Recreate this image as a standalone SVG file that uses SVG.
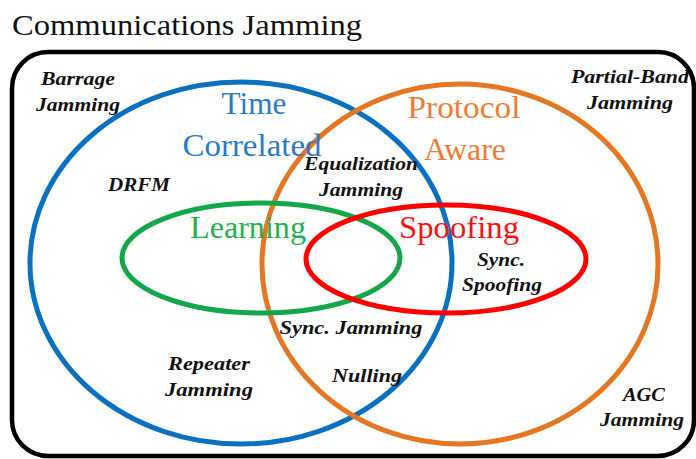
<svg xmlns="http://www.w3.org/2000/svg" width="696" height="459" viewBox="0 0 696 459">
<style>
.set{fill:none;stroke-width:5}
.title{font-family:"Liberation Serif","Times New Roman",serif;font-size:30px;fill:#111}
.big{font-family:"Liberation Serif","Times New Roman",serif;font-size:31px;text-anchor:middle}
.lbl{font-family:"Liberation Serif","Times New Roman",serif;font-size:19px;font-weight:bold;font-style:italic;fill:#111;text-anchor:middle}
</style>
<rect width="696" height="459" fill="#fff"/>
<text class="title" x="12" y="35" textLength="350" lengthAdjust="spacingAndGlyphs">Communications Jamming</text>
<rect id="frame" x="12" y="52" width="682" height="404" rx="36" fill="none" stroke="#000" stroke-width="4.5"/>
<g id="sets">
<ellipse id="time-correlated" class="set" cx="241" cy="263" rx="211" ry="181" stroke="#0a70c0"/>
<ellipse id="protocol-aware" class="set" cx="460" cy="264" rx="198" ry="180" stroke="#e57722"/>
<ellipse id="learning" class="set" cx="261" cy="258" rx="139" ry="55" stroke="#12a84a"/>
<ellipse id="spoofing" class="set" cx="446" cy="259" rx="140" ry="54" stroke="#ff0000"/>
</g>
<g id="set-labels">
<text class="big" fill="#2a7bc6" x="254" y="114" textLength="65" lengthAdjust="spacingAndGlyphs">Time</text>
<text class="big" fill="#2a7bc6" x="252" y="156" textLength="139" lengthAdjust="spacingAndGlyphs">Correlated</text>
<text class="big" fill="#ee7c32" x="464" y="118" textLength="113" lengthAdjust="spacingAndGlyphs">Protocol</text>
<text class="big" fill="#ee7c32" x="465" y="160" textLength="82" lengthAdjust="spacingAndGlyphs">Aware</text>
<text class="big" fill="#1fb050" x="248" y="238" textLength="116" lengthAdjust="spacingAndGlyphs">Learning</text>
<text class="big" fill="#ff1010" x="459" y="238" textLength="120" lengthAdjust="spacingAndGlyphs">Spoofing</text>
</g>
<g id="labels">
<text class="lbl" x="78" y="85" textLength="74" lengthAdjust="spacingAndGlyphs">Barrage</text>
<text class="lbl" x="78" y="111" textLength="84" lengthAdjust="spacingAndGlyphs">Jamming</text>
<text class="lbl" x="630" y="83" textLength="118" lengthAdjust="spacingAndGlyphs">Partial-Band</text>
<text class="lbl" x="630" y="109" textLength="86" lengthAdjust="spacingAndGlyphs">Jamming</text>
<text class="lbl" x="139" y="191" textLength="62" lengthAdjust="spacingAndGlyphs">DRFM</text>
<text class="lbl" x="361" y="170" textLength="114" lengthAdjust="spacingAndGlyphs">Equalization</text>
<text class="lbl" x="361" y="196" textLength="84" lengthAdjust="spacingAndGlyphs">Jamming</text>
<text class="lbl" x="501" y="266" textLength="48" lengthAdjust="spacingAndGlyphs">Sync.</text>
<text class="lbl" x="502" y="291" textLength="80" lengthAdjust="spacingAndGlyphs">Spoofing</text>
<text class="lbl" x="351" y="334" textLength="143" lengthAdjust="spacingAndGlyphs">Sync. Jamming</text>
<text class="lbl" x="209" y="370" textLength="82" lengthAdjust="spacingAndGlyphs">Repeater</text>
<text class="lbl" x="209" y="396" textLength="88" lengthAdjust="spacingAndGlyphs">Jamming</text>
<text class="lbl" x="367" y="382" textLength="70" lengthAdjust="spacingAndGlyphs">Nulling</text>
<text class="lbl" x="644" y="401" textLength="42" lengthAdjust="spacingAndGlyphs">AGC</text>
<text class="lbl" x="642" y="426" textLength="84" lengthAdjust="spacingAndGlyphs">Jamming</text>
</g>
</svg>
